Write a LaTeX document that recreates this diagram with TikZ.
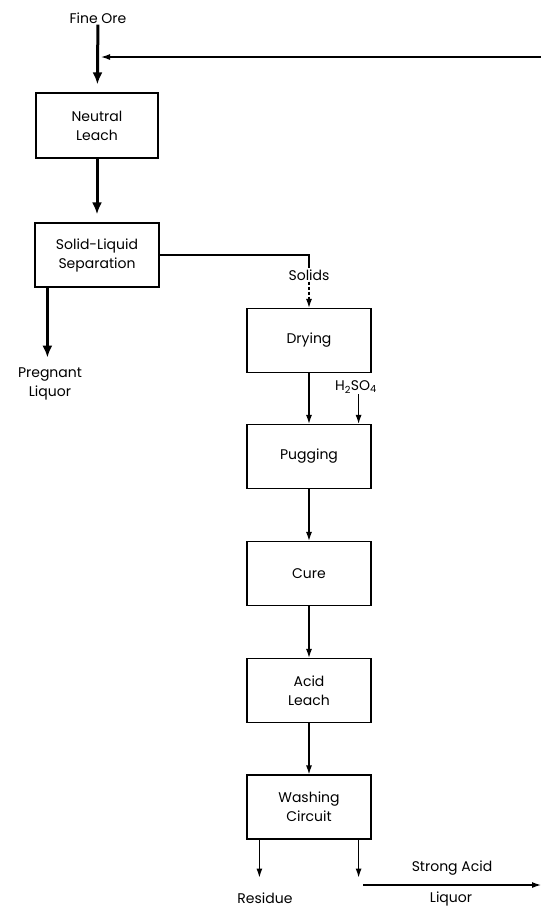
\documentclass[tikz,border=0pt]{standalone}
\usepackage{fontspec}
\setmainfont{Poppins}
\usetikzlibrary{arrows.meta}
\begin{document}
\begin{tikzpicture}[x=1pt,y=-1pt,
  box/.style={draw, line width=1.2pt, minimum width=124pt, minimum height=64pt, align=center, inner sep=0pt},
  lbl/.style={align=center, inner sep=1pt},
  thinarrow/.style={line width=1.2pt, -{Latex[length=9pt,width=6pt]}},
  thickarrow/.style={line width=3pt, -{Latex[length=12pt,width=10pt]}},
  plain/.style={line width=1.2pt},
  font=\fontsize{14}{19}\selectfont]
\useasboundingbox (0,0) rectangle (541,908);
\fill[white] (0,0) rectangle (541,908);

% left column
\node[lbl] (ore) at (98,18) {Fine Ore};
\node[box, minimum width=122pt, minimum height=65pt] (nl) at (97,125.5) {Neutral\\Leach};
\node[box] (sls) at (97,255) {Solid-Liquid\\Separation};
\node[lbl] (preg) at (50,384) {Pregnant\\Liquor};

% right column
\node[lbl] (solids) at (309,275) {Solids};
\node[box] (dry) at (309,340.5) {Drying};
\node[lbl] (acid) at (356,387) {H\textsubscript{2}SO\textsubscript{4}};
\node[box] (pug) at (309,456.5) {Pugging};
\node[box] (cure) at (309,573.5) {Cure};
\node[box] (al) at (309,690.5) {Acid\\Leach};
\node[box] (wash) at (309,807) {Washing\\Circuit};
\node[lbl] (res) at (265,898) {Residue};
\node[lbl] (strong) at (452,868) {Strong Acid};
\node[lbl] (liq) at (451,899) {Liquor};

\coordinate (fb) at (541,57);
\coordinate (fbend) at (97,57);
\coordinate (sa) at (363,885);
\coordinate (saend) at (541,885);

% connectors
\draw[thickarrow, shorten >=8pt] (ore) -- (nl);
\draw[thinarrow, shorten >=4pt] (fb) -- (fbend);
\draw[thickarrow, shorten >=8pt] (nl) -- (sls);
\draw[thickarrow] ([xshift=13pt]sls.south west) -- ++(0,70);
\draw[plain] (sls.east) -| (solids.north);
\draw[thinarrow, densely dashed] (solids.south) -- (dry.north);
\draw[thinarrow] (dry) -- (pug);
\draw[thinarrow] ([xshift=-13pt]pug.north east |- acid.south) -- ([xshift=-13pt]pug.north east);
\draw[thinarrow] (pug) -- (cure);
\draw[thinarrow] (cure) -- (al);
\draw[thinarrow] (al) -- (wash);
\draw[thinarrow] ([xshift=13pt]wash.south west) -- ++(0,38);
\draw[thinarrow] ([xshift=-13pt]wash.south east) -- ++(0,38);
\draw[thinarrow] (sa) -- (saend);
\end{tikzpicture}
\end{document}
